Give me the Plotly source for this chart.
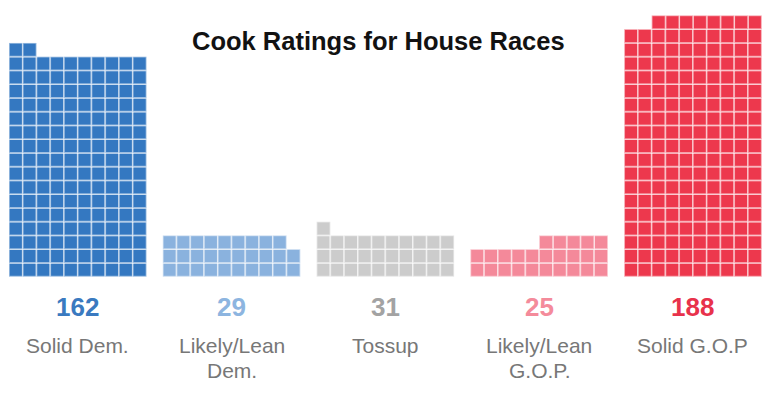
import plotly.graph_objects as go

# ---- data ----
categories = ["Solid Dem.", "Likely/Lean<br>Dem.", "Tossup", "Likely/Lean<br>G.O.P.", "Solid G.O.P"]
seats = [162, 29, 31, 25, 188]
fill_from = ["left", "left", "left", "right", "right"]
cell_colors = ["#3478C1", "#8AB2DE", "#CCCCCC", "#F4899A", "#ED384D"]
number_colors = ["#3A7AC0", "#8DB5E0", "#A3A3A3", "#F48B9B", "#E8324B"]
title = "Cook Ratings for House Races"

COLS = 10
PITCH = 13.75          # px per cell
GROUP_STEP = 153.8 / PITCH
W, H = 768, 402

fig = go.Figure()
for g, (n, side, col) in enumerate(zip(seats, fill_from, cell_colors)):
    xs, ys = [], []
    full_rows, rem = divmod(n, COLS)
    for r in range(full_rows):
        for c in range(COLS):
            xs.append(g * GROUP_STEP + c)
            ys.append(r)
    for k in range(rem):
        c = k if side == "left" else COLS - 1 - k
        xs.append(g * GROUP_STEP + c)
        ys.append(full_rows)
    fig.add_trace(go.Scatter(
        x=xs, y=ys, mode="markers", hoverinfo="skip", showlegend=False,
        marker=dict(symbol="square", size=PITCH, color=col,
                    line=dict(color="rgba(255,255,255,0.5)", width=1.7)),
    ))

x0 = -(9 + PITCH / 2) / PITCH

def ypix(p):
    return (276.7 - PITCH / 2 - p) / PITCH

LINE_Y = [345, 370]
for g, (n, lab, nc) in enumerate(zip(seats, categories, number_colors)):
    cx = g * GROUP_STEP + (COLS - 1) / 2
    fig.add_annotation(x=cx, y=ypix(307), text=f"<b>{n}</b>", showarrow=False,
                       xanchor="center", yanchor="middle",
                       font=dict(family="Liberation Sans, Arial", size=26, color=nc))
    for i, part in enumerate(lab.split("<br>")):
        fig.add_annotation(x=cx, y=ypix(LINE_Y[i]), text=part, showarrow=False,
                           xanchor="center", yanchor="middle",
                           font=dict(family="Liberation Sans, Arial", size=21, color="#777777"))

fig.add_annotation(x=(378 - 9 - PITCH / 2) / PITCH, y=ypix(41), text=f"<b>{title}</b>",
                   showarrow=False, xanchor="center", yanchor="middle",
                   font=dict(family="Liberation Sans, Arial", size=25.5, color="#121212"))

fig.update_xaxes(range=[x0, x0 + W / PITCH], visible=False, fixedrange=True)
fig.update_yaxes(range=[ypix(H), ypix(0)], visible=False, fixedrange=True)
fig.update_layout(width=W, height=H, margin=dict(l=0, r=0, t=0, b=0),
                  paper_bgcolor="white", plot_bgcolor="white")

fig.write_html("out.html", config={"displayModeBar": False},
               post_script="document.body.style.margin='0';document.body.style.overflow='hidden';")
